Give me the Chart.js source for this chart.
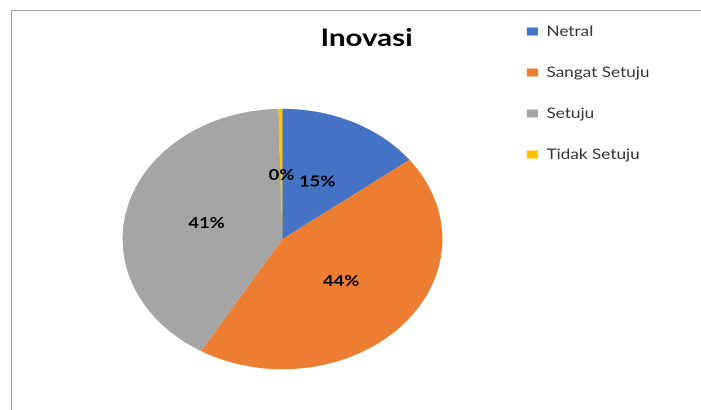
<!DOCTYPE html>
<html>
<head>
<meta charset="utf-8">
<script src="https://cdn.jsdelivr.net/npm/chart.js@4"></script>
<style>
  html, body { margin: 0; padding: 0; background: #fff; }
  body { width: 701px; height: 410px; position: relative; overflow: hidden; }
  #frame { position: absolute; left: 11px; top: 10px; width: 700px; height: 410px;
           border-top: 1px solid #a0a0a0; border-left: 1px solid #a0a0a0; }
  /* the reference is stretched sideways, so the whole chart is too */
  #wrap { position: absolute; left: 0; top: 0; width: 571px; height: 410px;
          transform: scaleX(1.2277); transform-origin: 0 0; }
</style>
</head>
<body>
<div id="frame"></div>
<div id="wrap"><canvas id="chart"></canvas></div>
<script>
'use strict';

var labels = ['Netral', 'Sangat Setuju', 'Setuju', 'Tidak Setuju'];
var values = [14.6, 43.9, 41.1, 0.4];
var colors = ['#4472C4', '#ED7D31', '#A5A5A5', '#FFC000'];

// percent text in the middle of each slice
var pctLabels = {
  id: 'pctLabels',
  afterDatasetsDraw: function (chart) {
    var ctx = chart.ctx;
    var meta = chart.getDatasetMeta(0);
    var total = values.reduce(function (a, b) { return a + b; }, 0);
    ctx.save();
    ctx.font = 'bold 15px Lato';
    ctx.fillStyle = '#000';
    ctx.textAlign = 'center';
    ctx.textBaseline = 'middle';
    meta.data.forEach(function (arc, i) {
      var mid = (arc.startAngle + arc.endAngle) / 2;
      var r = arc.outerRadius * 0.49;
      var txt = Math.round(values[i] / total * 100) + '%';
      ctx.fillText(txt, arc.x + Math.cos(mid) * r, arc.y + Math.sin(mid) * r);
    });
    ctx.restore();
  }
};

var ctx = document.getElementById('chart').getContext('2d');

var chart = new Chart(ctx, {
  type: 'pie',
  data: {
    labels: labels,
    datasets: [{
      data: values,
      backgroundColor: colors,
      borderWidth: 0,
      hoverOffset: 0
    }]
  },
  options: {
    responsive: true,
    maintainAspectRatio: false,
    devicePixelRatio: 2,
    animation: false,
    events: [],
    layout: {
      padding: { left: 58, right: 32, top: -2.5, bottom: 40.7 }
    },
    plugins: {
      title: {
        display: true,
        text: 'Inovasi',
        color: '#000',
        font: { family: 'Lato', size: 24, weight: 'bold' },
        padding: { top: 26.6, bottom: 55.8 }
      },
      legend: {
        position: 'right',
        align: 'start',
        labels: {
          color: '#333',
          font: { family: 'Lato', size: 14 },
          boxWidth: 9,
          boxHeight: 8,
          padding: 27
        }
      },
      tooltip: { enabled: false }
    }
  },
  plugins: [pctLabels]
});
</script>
</body>
</html>
